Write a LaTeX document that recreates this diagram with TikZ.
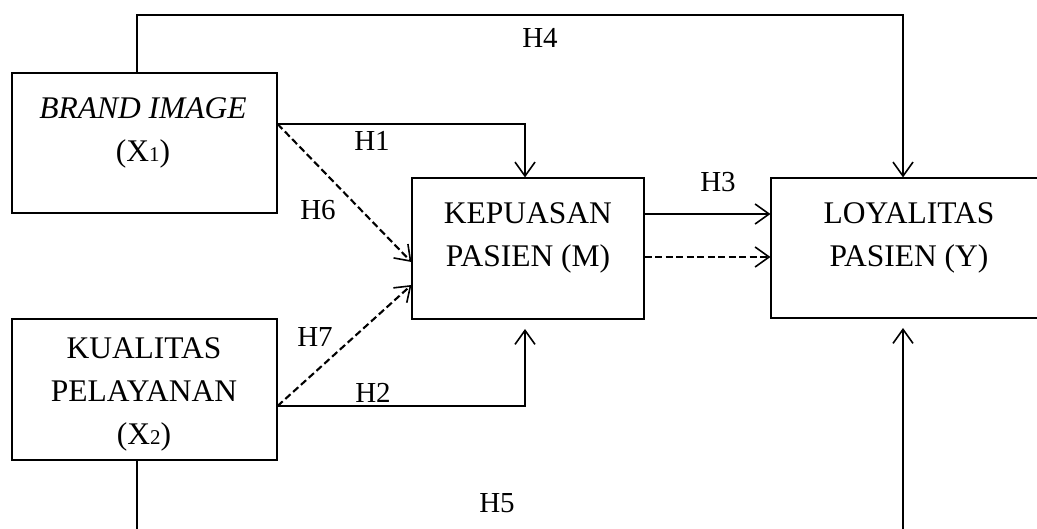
\documentclass[tikz,border=0pt]{standalone}
\usepackage{fontspec}
\setmainfont{Liberation Serif}
\usetikzlibrary{arrows.meta}
\begin{document}
\begin{tikzpicture}[x=1pt,y=-1pt,
  box/.style={draw,line width=1.1pt,minimum width=#1,inner sep=0pt},
  txt/.style={align=center,font=\fontsize{31.5}{43}\selectfont,inner sep=0pt},
  lbl/.style={font=\fontsize{29}{34}\selectfont,inner sep=0pt},
  conn/.style={line width=1.6pt},
  arr/.style={conn,-{Straight Barb[length=14pt,width=20pt,line width=1.6pt]}},
  dsh/.style={line width=2.1pt,dash pattern=on 7pt off 3.5pt}]
\clip (0,0) rectangle (1037,529);
\useasboundingbox (0,0) rectangle (1037,529);
% boxes
\node[box=265pt,minimum height=140pt] (bi) at (144.5,143) {};
\node[box=265pt,minimum height=141pt] (kp) at (144.5,389.5) {};
\node[box=232pt,minimum height=141pt] (kep) at (528,248.5) {};
\node[box=276pt,minimum height=140pt] (loy) at (909,248) {};
% texts
\node[txt] (tbi) at (143,133) {\textit{BRAND IMAGE}\\(X{\fontsize{21}{21}\selectfont 1})};
\node[txt] (tkp) at (144,394) {KUALITAS\\PELAYANAN\\(X{\fontsize{21}{21}\selectfont 2})};
\node[txt] (tkep) at (528,237.5) {KEPUASAN\\PASIEN (M)};
\node[txt] (tloy) at (909,237.5) {LOYALITAS\\PASIEN (Y)};
% helper coordinates
\coordinate (h4a) at (137,15);
\coordinate (h4b) at (903,15);
\coordinate (h5a) at (137,529);
\coordinate (h5b) at (903,529);
\coordinate (h5t) at (903,328);
\coordinate (h1a) at (525,124);
\coordinate (h2a) at (525,406);
\coordinate (h2t) at (525,329);
\coordinate (h6t) at (411,262);
\coordinate (h7t) at (411,285);
\coordinate (h3y) at (0,214);
\coordinate (hdy) at (0,257);
% connectors
\draw[arr] (bi.north -| h4a) -- (h4a) -- (h4b) -- (loy.north -| h4b);
\draw[conn] (kp.south -| h5a) -- (h5a);
\draw[arr] (h5b) -- (h5t);
\draw[arr] (bi.east |- h1a) -- (h1a) -- (kep.north -| h1a);
\draw[arr] (kp.east |- h2a) -- (h2a) -- (h2t);
\draw[arr,dsh] (bi.east |- h1a) -- (kep.west |- h6t);
\draw[arr,dsh] (kp.east |- h2a) -- (kep.west |- h7t);
\draw[arr] (kep.east |- h3y) -- (loy.west |- h3y);
\draw[arr,dsh] (kep.east |- hdy) -- (loy.west |- hdy);
% labels
\node[lbl] (l1) at (372,141) {H1};
\node[lbl] (l2) at (373,393) {H2};
\node[lbl] (l3) at (718,182) {H3};
\node[lbl] (l4) at (540,38) {H4};
\node[lbl] (l5) at (497,503) {H5};
\node[lbl] (l6) at (318,210) {H6};
\node[lbl] (l7) at (315,337) {H7};
\end{tikzpicture}
\end{document}
